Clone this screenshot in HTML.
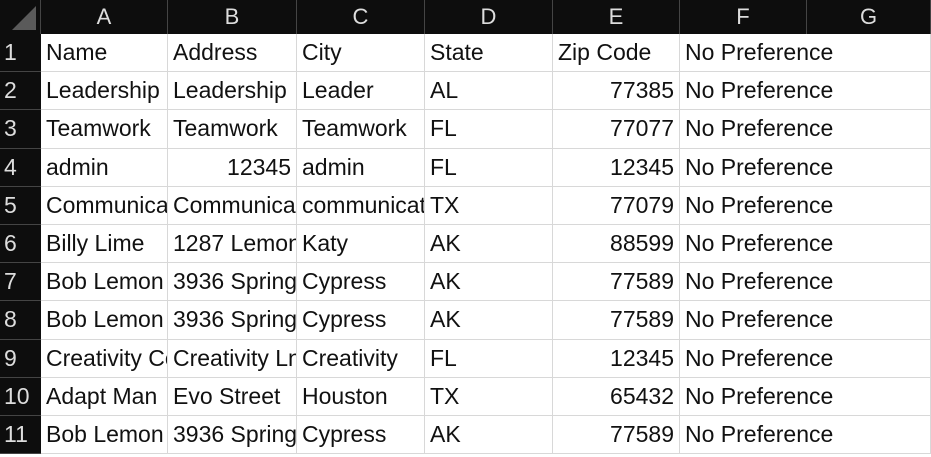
<!DOCTYPE html>
<html><head><meta charset="utf-8"><style>
body{margin:0;width:931px;height:457px;overflow:hidden;background:#fff;font-family:"Liberation Sans",sans-serif;}
.c{position:absolute;overflow:hidden;white-space:nowrap;box-sizing:border-box;font-size:23px;color:#111;padding:0 5px;border-right:1px solid #d8d8d8;border-bottom:1px solid #d8d8d8;line-height:37px;}
.c.ov{overflow:visible;border-right:none;}
.h{position:absolute;background:#0d0d0d;color:#ddd;font-size:22px;text-align:center;line-height:34px;box-sizing:border-box;border-right:1px solid #444;}
.r{position:absolute;background:#0d0d0d;color:#ddd;font-size:23px;box-sizing:border-box;padding-left:4px;line-height:37px;border-bottom:1px solid #444;}
.n{text-align:right;}
</style></head><body>
<div id="grid"></div>
<script>
const cols=['A','B','C','D','E','F','G'];
const colX=[41,168,297,425,553,680,807,931];
const rows=[
['Name','Address','City','State','Zip Code','No Preference',''],
['Leadership','Leadership','Leader','AL','77385','No Preference',''],
['Teamwork','Teamwork','Teamwork','FL','77077','No Preference',''],
['admin','12345','admin','FL','12345','No Preference',''],
['Communication','Communication','communication','TX','77079','No Preference',''],
['Billy Lime','1287 Lemon','Katy','AK','88599','No Preference',''],
['Bob Lemon','3936 Spring','Cypress','AK','77589','No Preference',''],
['Bob Lemon','3936 Spring','Cypress','AK','77589','No Preference',''],
['Creativity Co','Creativity Ln','Creativity','FL','12345','No Preference',''],
['Adapt Man','Evo Street','Houston','TX','65432','No Preference',''],
['Bob Lemon','3936 Spring','Cypress','AK','77589','No Preference','']
];
const g=document.getElementById('grid');
const top0=34,rh=38.2;
let corner=document.createElement('div');


corner.style.cssText='position:absolute;left:0;top:0;width:41px;height:34px;background:#0d0d0d;border-right:1px solid #444;box-sizing:border-box';
corner.innerHTML='<svg width="40" height="34"><polygon points="36,6 36,30 12,30" fill="#5a5a5a"/></svg>';
g.appendChild(corner);
cols.forEach((c,i)=>{const d=document.createElement('div');d.className='h';


d.style.left=colX[i]+'px';d.style.top='0px';d.style.width=(colX[i+1]-colX[i])+'px';d.style.height='34px';d.textContent=c;g.appendChild(d);});
rows.forEach((r,j)=>{const y=top0+j*rh;
const rn=document.createElement('div');rn.className='r';


rn.style.left='0px';rn.style.top=y+'px';rn.style.width='41px';rn.style.height=rh+'px';rn.textContent=j+1;g.appendChild(rn);
r.forEach((v,i)=>{const d=document.createElement('div');d.className='c'+(/^\d+$/.test(v)?' n':'')+(i===5?' ov':'');


d.style.left=colX[i]+'px';d.style.top=y+'px';d.style.width=(colX[i+1]-colX[i])+'px';d.style.height=rh+'px';d.textContent=v;g.appendChild(d);});});
</script>
</body></html>
